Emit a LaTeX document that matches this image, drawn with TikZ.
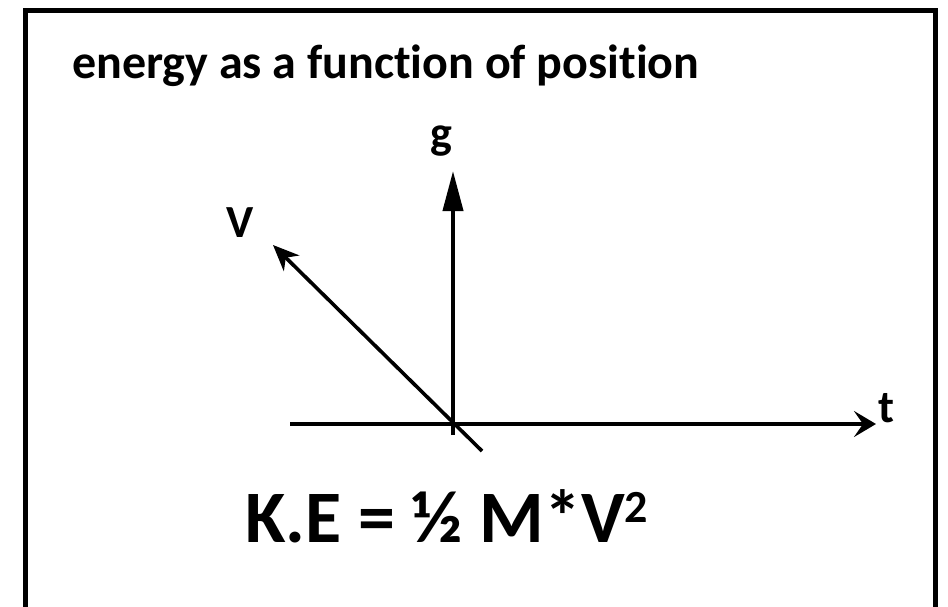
\documentclass[tikz,border=0pt]{standalone}
\usepackage{fontspec}
\setmainfont{Carlito}[Ligatures=NoCommon]
\usetikzlibrary{arrows.meta}
\begin{document}
\begin{tikzpicture}[x=1pt,y=-1pt,
  lbl/.style={font=\fontsize{46}{50}\selectfont\bfseries, inner sep=0pt},
  axis/.style={line width=4pt}]
\useasboundingbox (0,0) rectangle (948,606);
\fill[white] (0,0) rectangle (948,606);
\draw[line width=5pt] (25.5,10.5) rectangle (935,640);
\node[font=\fontsize{48}{50}\selectfont\bfseries, inner sep=0pt, anchor=base west] (title) at (72,78) {energy as a function of position};
% axes
\coordinate (tstart) at (290,424);
\coordinate (tend) at (876,424);
\coordinate (gstart) at (453,435);
\coordinate (gend) at (453,171);
\coordinate (vstart) at (482,451);
\coordinate (vend) at (273,245);
\draw[axis, -{Stealth[length=22pt,width=26pt,inset=9pt]}] (tstart) -- (tend);
\draw[axis, -{Triangle[length=40pt,width=20pt]}] (gstart) -- (gend);
\draw[line width=3.6pt, -{Stealth[length=26pt,width=22pt,inset=8pt]}] (vstart) -- (vend);
\node[lbl, anchor=base] (g) at (441,148) {g};
\node[lbl, anchor=base] (V) at (240,237) {V};
\node[lbl, anchor=base] (t) at (886,422) {t};
\node[font=\fontsize{74}{80}\selectfont\bfseries, inner sep=0pt, anchor=base west] (ke) at (245,542) {K.E = ½ M*V\raisebox{20pt}{\fontsize{46}{50}\selectfont\bfseries 2}};
\end{tikzpicture}
\end{document}
